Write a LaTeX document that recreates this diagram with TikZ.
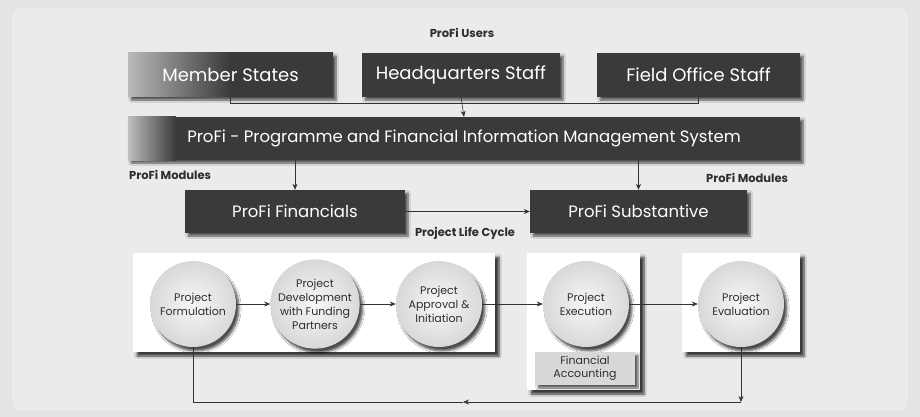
\documentclass[tikz,border=0pt]{standalone}
\usepackage{fontspec}
\setmainfont{Poppins}
\usetikzlibrary{shadows.blur,arrows.meta}
\definecolor{boxdark}{HTML}{3A3A3A}
\definecolor{bgcol}{HTML}{E4E4E4}
\definecolor{bgpanel}{HTML}{EBEBEB}
\definecolor{circfill}{HTML}{D8D8D8}
\definecolor{txtdark}{HTML}{2E2E2E}
\begin{document}
\begin{tikzpicture}[x=1pt,y=-1pt,
  shd/.style={blur shadow={shadow xshift=3pt, shadow yshift=-3pt, shadow blur steps=6, shadow opacity=65}},
  darkbox/.style={shd, draw=none, fill=boxdark, text=white, inner sep=0pt, font=\fontsize{18}{20}\selectfont},
  modbox/.style={darkbox, font=\fontsize{16.5}{18}\selectfont},
  lbl/.style={font=\bfseries\fontsize{11.5}{13}\selectfont, text=txtdark, inner sep=1pt},
  panel/.style={blur shadow={shadow xshift=4pt, shadow yshift=-4pt, shadow blur steps=6, shadow opacity=75}, fill=white, draw=none, inner sep=0pt},
  phase/.style={circle, minimum size=86pt, inner sep=0pt, inner color=gray!6, outer color=circfill,
      blur shadow={shadow xshift=3pt, shadow yshift=-4pt, shadow blur steps=6, shadow opacity=70},
      align=center, text=txtdark, font=\fontsize{11}{14}\selectfont},
  arr/.style={-{Stealth[length=6pt,width=5pt]}, line width=0.6pt, draw=black!80},
  ln/.style={line width=0.6pt, draw=black!80}]

% background
\fill[bgcol] (0,0) rectangle (920,417);
\fill[bgpanel, rounded corners=10pt] (12,8) rectangle (908,411);
\useasboundingbox (0,0) rectangle (920,417);

% labels
\node[lbl] (lusers) at (462,33) {ProFi Users};
\node[lbl, anchor=west] (lmodl) at (128,175) {ProFi Modules};
\node[lbl, anchor=west] (lmodr) at (705,178) {ProFi Modules};
\node[lbl] (llife) at (465,233) {Project Life Cycle};

% users
\node[darkbox, left color=gray!55, right color=boxdark, middle color=boxdark, minimum width=205pt, minimum height=44pt] (ms) at (230.5,75) {Member States};
\node[darkbox, minimum width=198pt, minimum height=44pt] (hq) at (461,75) {Headquarters Staff};
\node[darkbox, minimum width=203pt, minimum height=44pt] (fo) at (698.5,75) {Field Office Staff};

% system
\node[darkbox, minimum width=672pt, minimum height=43pt, font=\fontsize{16.5}{18}\selectfont] (sys) at (464,138.5)
  {ProFi - Programme and Financial Information Management System};
\shade[left color=gray!50, right color=boxdark] (sys.south west) rectangle ([xshift=48pt]sys.north west);

% modules
\node[modbox, minimum width=220pt, minimum height=43pt] (fin) at (295,211.5) {ProFi Financials};
\node[modbox, minimum width=217pt, minimum height=43pt] (sub) at (638.5,211.5) {ProFi Substantive};

% connectors top
\coordinate (jl) at (230.5,103);
\coordinate (jr) at (698.5,103);
\draw[ln] (ms.south) -- (jl) -- (jr) -- (fo.south);
\draw[arr] (hq.south) -- (sys.north);
\draw[arr] (sys.south -| fin.north) -- (fin.north);
\draw[arr] (sys.south -| sub.north) -- (sub.north);
\draw[arr] (fin.east) -- (sub.west);

% panels
\node[panel, minimum width=362pt, minimum height=99pt] (p1) at (314,302.5) {};
\node[panel, minimum width=113pt, minimum height=137pt] (p2) at (583.5,321.5) {};
\node[panel, minimum width=118pt, minimum height=99pt] (p3) at (741,302.5) {};

% phases
\node[phase] (form) at (193,304) {Project\\Formulation};
\node[phase] (dev) at (315,304) {Project\\Development\\with Funding\\Partners};
\node[phase] (appr) at (439,304) {Project\\Approval \&\\Initiation};
\node[phase] (exec) at (586,304) {Project\\Execution};
\node[phase] (eval) at (741,304) {Project\\Evaluation};

\node[shd, fill=circfill, minimum width=100pt, minimum height=33pt, inner sep=0pt, align=center,
  text=txtdark, font=\fontsize{11}{13}\selectfont] (facc) at (585,368.5) {Financial\\Accounting};

\draw[arr] (form) -- (dev);
\draw[arr] (dev) -- (appr);
\draw[arr] (appr) -- (exec);
\draw[arr] (exec) -- (eval);

% feedback
\coordinate (c1) at (741,402);
\coordinate (cm) at (463,402);
\coordinate (c2) at (193,402);
\draw[arr] (eval.south) -- (c1);
\draw[arr] (c1) -- (cm);
\draw[ln] (cm) -- (c2) -- (form.south);
\end{tikzpicture}
\end{document}
